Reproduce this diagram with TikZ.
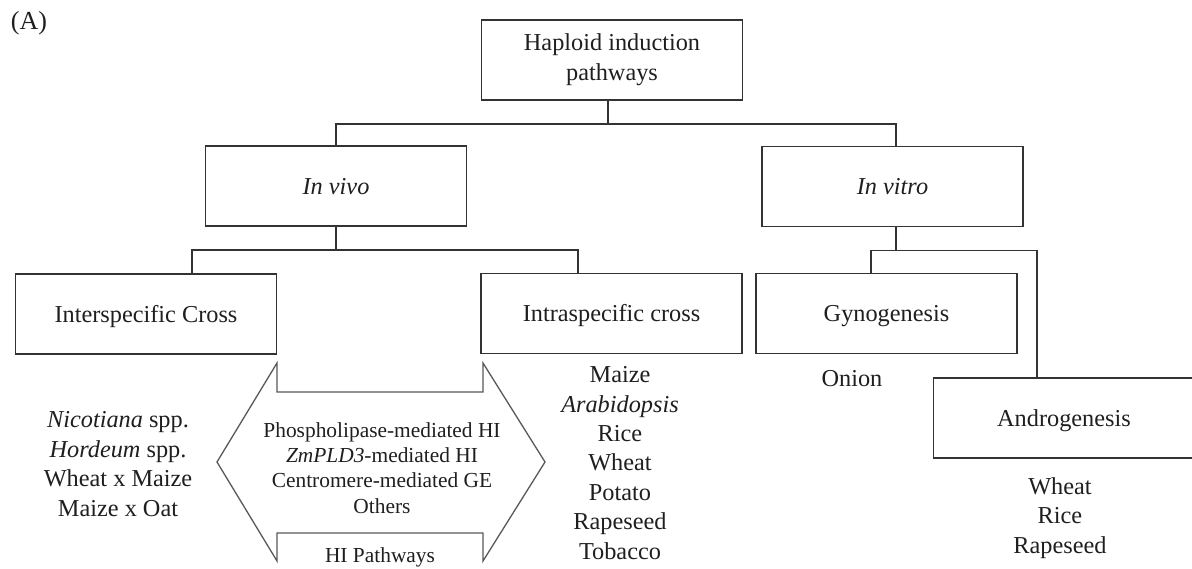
\documentclass[tikz,border=0pt]{standalone}
\usepackage{fontspec}
\setmainfont{Liberation Serif}
\begin{document}
\begin{tikzpicture}[x=1pt,y=-1pt,
  every node/.style={text=black!88},
  box/.style={draw=black!80, line width=1.6pt, inner sep=0pt,
    minimum width=261pt, minimum height=80pt, align=center,
    font=\fontsize{24.3}{30}\selectfont},
  onebox/.style={box, text height=16pt, text depth=0pt},
  conn/.style={draw=black!80, line width=1.5pt},
  listtext/.style={align=center, inner sep=0pt, font=\fontsize{24.3}{29.4}\selectfont},
  hitext/.style={align=center, inner sep=0pt, font=\fontsize{21.4}{25.3}\selectfont},
  hiarrow/.style={draw=black!65, line width=1.3pt, line join=miter}
]
\useasboundingbox[fill=white] (0,0) rectangle (1192,568);

\node[inner sep=0pt, font=\fontsize{26}{30}\selectfont] (lab) at (29,23.5) {(A)};

\node[box] (top) at (612,60) {Haploid induction\\pathways};
\node[onebox] (invivo) at (336,186) {\textit{In vivo}};
\node[onebox] (invitro) at (892.5,186.5) {\textit{In vitro}};
\node[onebox] (inter) at (146,314) {Interspecific Cross};
\node[onebox] (intra) at (611.5,313.5) {Intraspecific cross};
\node[onebox] (gyno) at (886.5,313.5) {Gynogenesis};
\node[onebox] (andro) at (1064,418) {Androgenesis};

% connectors
\draw[conn] ([xshift=-4pt]top.south) -- ++(0,23) coordinate (h1);
\draw[conn] (invivo.north) |- (h1) -| ([xshift=3.5pt]invitro.north);
\draw[conn] (invivo.south) -- ++(0,23) coordinate (h2);
\draw[conn] ([xshift=46pt]inter.north) |- (h2) -| ([xshift=-33.5pt]intra.north);
\draw[conn] ([xshift=3.5pt]invitro.south) -- ++(0,23) coordinate (h3);
\draw[conn] ([xshift=-15.5pt]gyno.north) |- (h3) -| ([xshift=-27pt]andro.north);

% lists
\node[listtext] (interlist) at (118,464) {\textit{Nicotiana} spp.\\\textit{Hordeum} spp.\\Wheat x Maize\\Maize x Oat};
\node[listtext] (intralist) at (620,463) {Maize\\\textit{Arabidopsis}\\Rice\\Wheat\\Potato\\Rapeseed\\Tobacco};
\node[listtext] (onion) at (852,379) {Onion};
\node[listtext] (androlist) at (1060,518) {Wheat\\Rice\\Rapeseed};

% double arrow
\draw[hiarrow] (217,462) -- (277,363) -- (277,392) -- (483,392) -- (483,363)
  -- (545,462) -- (483,561) -- (483,533) -- (277,533) -- (277,561) -- cycle;
\node[hitext] (hilist) at (382,468) {Phospholipase-mediated HI\\\textit{ZmPLD3}-mediated HI\\Centromere-mediated GE\\Others};
\node[hitext] (hilabel) at (380,557) {HI Pathways};
\end{tikzpicture}
\end{document}
